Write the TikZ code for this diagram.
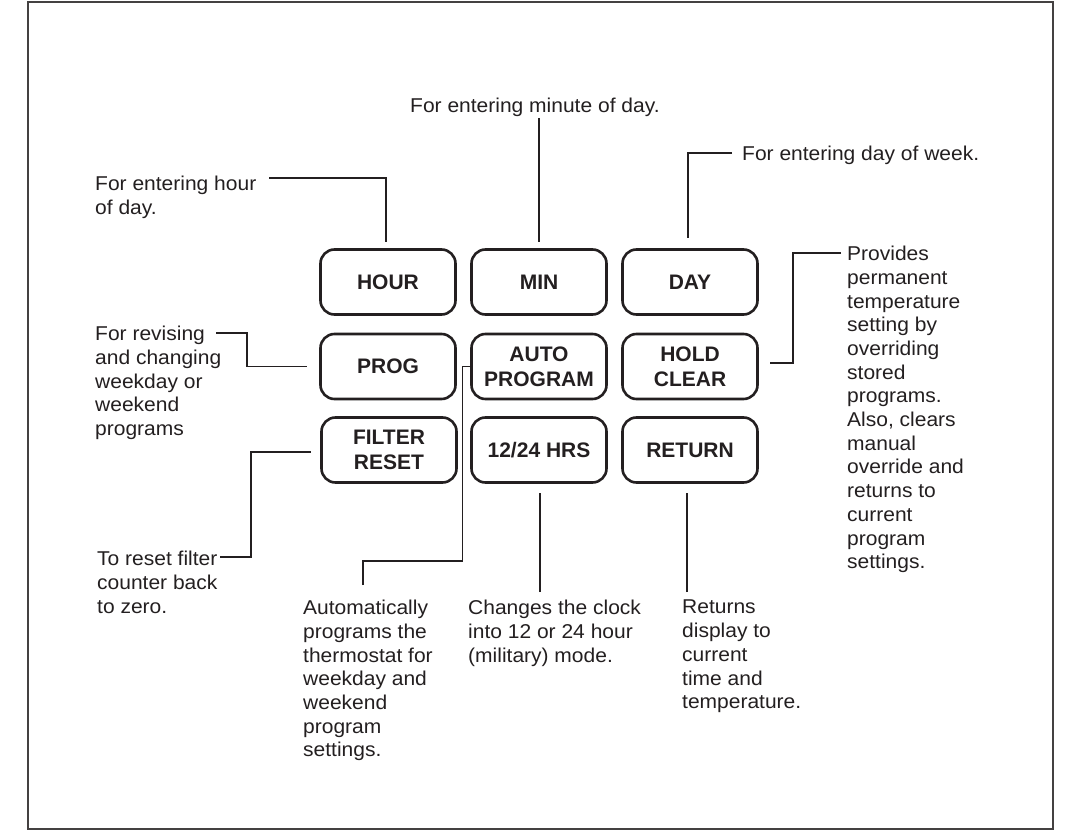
\documentclass[tikz,border=0pt]{standalone}
\usepackage{fontspec}
\setmainfont{Liberation Sans}
\newfontfamily\notefont[FakeStretch=1.05]{Liberation Sans}
\definecolor{ink}{HTML}{231F20}
\begin{document}
\begin{tikzpicture}[x=1pt,y=-1pt,
  btn/.style={draw=ink, line width=2.6pt, rounded corners=14pt, minimum width=135pt, minimum height=65pt, align=center, inner sep=0pt, font=\bfseries\fontsize{21}{25}\selectfont, text=ink},
  note/.style={anchor=north west, inner sep=0pt, align=left, font=\notefont\fontsize{20}{23.7}\selectfont, text=ink},
  wire/.style={draw=ink, line width=1.4pt}]
\useasboundingbox (0,0) rectangle (1080,834);
\draw[line width=2pt, draw=ink!85] (28,2.5) rectangle (1053,828.5);
% buttons
\node[btn] (hour) at (388,282) {HOUR};
\node[btn] (min) at (539,282) {MIN};
\node[btn] (day) at (690,282) {DAY};
\node[btn] (prog) at (388,366.5) {PROG};
\node[btn] (auto) at (539,366.5) {AUTO\\PROGRAM};
\node[btn] (hold) at (690,366.5) {HOLD\\CLEAR};
\node[btn] (filter) at (389,450) {FILTER\\RESET};
\node[btn] (clock) at (539,450) {12/24 HRS};
\node[btn] (ret) at (690,450) {RETURN};
% notes
\node[note] (hourTxt) at (95,176) {For entering hour\\of day.};
\node[note] (minTxt) at (410,98) {For entering minute of day.};
\node[note] (dayTxt) at (742,146) {For entering day of week.};
\node[note] (progTxt) at (95,326) {For revising\\and changing\\weekday or\\weekend\\programs};
\node[note] (filterTxt) at (97,551) {To reset filter\\counter back\\to zero.};
\node[note] (autoTxt) at (303,600) {Automatically\\programs the\\thermostat for\\weekday and\\weekend\\program\\settings.};
\node[note] (clockTxt) at (468,600) {Changes the clock\\into 12 or 24 hour\\(military) mode.};
\node[note] (retTxt) at (682,600) {Returns\\display to\\current\\time and\\temperature.};
\node[note] (holdTxt) at (847,246) {Provides\\permanent\\temperature\\setting by\\overriding\\stored\\programs.\\Also, clears\\manual\\override and\\returns to\\current\\program\\settings.};
% connectors
\coordinate (hourEnd) at (269,178);
\draw[wire] (hourEnd) -| ([xshift=-2pt,yshift=6pt]hour.north);
\coordinate (minEnd) at (539,118);
\draw[wire] (minEnd) -- ([yshift=6pt]min.north);
\coordinate (dayEnd) at (732,153);
\draw[wire] (dayEnd) -| ([xshift=-2pt,yshift=10pt]day.north);
\coordinate (progEnd) at (216,333);
\draw[wire] (progEnd) -- ++(31,0) |- ([xshift=-12pt]prog.west);
\coordinate (filterEnd) at (220,557);
\draw[wire] (filterEnd) -- ++(31,0) |- ([xshift=-9pt,yshift=-2pt]filter.west);
\coordinate (autoEnd) at (363,585);
\draw[wire] (autoEnd) -- ++(0,-24) -| ([xshift=-8pt]auto.west) -- (auto.west);
\coordinate (clockEnd) at (540,592);
\draw[wire] (clockEnd) -- ([xshift=1pt,yshift=-9pt]clock.south);
\coordinate (retEnd) at (687,592);
\draw[wire] (retEnd) -- ([xshift=-3pt,yshift=-9pt]ret.south);
\coordinate (holdEnd) at (841,253);
\draw[wire] (holdEnd) -- ++(-48,0) |- ([xshift=11pt,yshift=3.5pt]hold.east);
\end{tikzpicture}
\end{document}
